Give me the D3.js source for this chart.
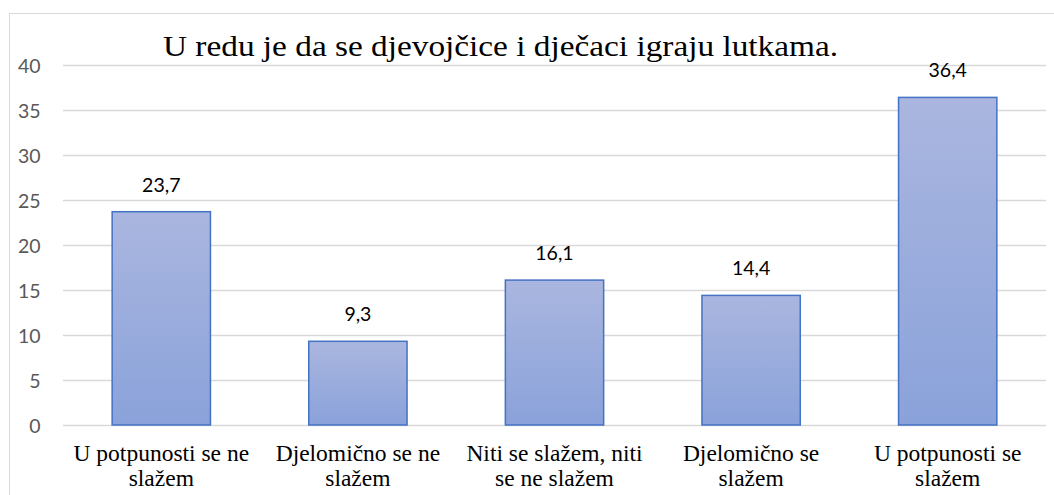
<!DOCTYPE html>
<html>
<head>
<meta charset="utf-8">
<script src="https://cdn.jsdelivr.net/npm/d3@7"></script>
<style>
  html, body { margin: 0; padding: 0; background: #fff; }
  svg { display: block; }
</style>
</head>
<body>
<svg id="chart" width="1054" height="495"></svg>
<script>
// Survey answers for the statement in the title (percent of respondents)
const categories = [
  ["U potpunosti se ne", "slažem"],
  ["Djelomično se ne", "slažem"],
  ["Niti se slažem, niti", "se ne slažem"],
  ["Djelomično se", "slažem"],
  ["U potpunosti se", "slažem"]
];
const values = [23.7, 9.3, 16.1, 14.4, 36.4];
const yTicks = [0, 5, 10, 15, 20, 25, 30, 35, 40];
const title = "U redu je da se djevojčice i dječaci igraju lutkama.";

const TEXT_FONT = "Liberation Serif, Liberation Sans, sans-serif";
const NUM_FONT = "Lato, sans-serif";

const svg = d3.select("#chart");
const plot = { left: 63, right: 1046, top: 65, bottom: 425 };

// Outer chart frame
svg.append("rect")
  .attr("x", 9.5).attr("y", 13.5)
  .attr("width", 1100).attr("height", 600)
  .attr("fill", "#fff")
  .attr("stroke", "#d9d9d9").attr("stroke-width", 1);

const x = d3.scaleBand()
  .domain(d3.range(categories.length))
  .range([plot.left, plot.right])
  .paddingInner(0.5)
  .paddingOuter(0.25);

const y = d3.scaleLinear()
  .domain([0, 40])
  .range([plot.bottom, plot.top]);

// Horizontal gridlines
svg.append("g")
  .selectAll("line")
  .data(yTicks)
  .join("line")
  .attr("x1", plot.left).attr("x2", plot.right)
  .attr("y1", d => Math.round(y(d)) + 0.5)
  .attr("y2", d => Math.round(y(d)) + 0.5)
  .attr("stroke", "#d9d9d9").attr("stroke-width", 1.3);

// Y axis tick labels
const yAxis = d3.axisLeft(y).tickValues(yTicks).tickSize(0).tickPadding(0);
const gy = svg.append("g")
  .attr("transform", `translate(${plot.left - 22.5},0)`)
  .call(yAxis)
  .attr("font-family", NUM_FONT)
  .attr("font-size", 19.5);
gy.select(".domain").remove();
gy.selectAll("text")
  .attr("fill", "#595959")
  .attr("dy", "0.36em");

// Bar gradient
const defs = svg.append("defs");
const grad = defs.append("linearGradient")
  .attr("id", "barFill")
  .attr("x1", 0).attr("y1", 0).attr("x2", 0).attr("y2", 1);
grad.append("stop").attr("offset", "0%").attr("stop-color", "#aab6df");
grad.append("stop").attr("offset", "100%").attr("stop-color", "#8aa2da");

// Bars
svg.append("g")
  .selectAll("rect")
  .data(values)
  .join("rect")
  .attr("x", (d, i) => x(i))
  .attr("y", d => y(d))
  .attr("width", x.bandwidth())
  .attr("height", d => y(0) - y(d))
  .attr("fill", "url(#barFill)")
  .attr("stroke", "#4472c4")
  .attr("stroke-width", 1.5);

// Value labels above bars
svg.append("g")
  .attr("font-family", NUM_FONT)
  .attr("font-size", 19.5)
  .selectAll("text")
  .data(values)
  .join("text")
  .attr("x", (d, i) => x(i) + x.bandwidth() / 2)
  .attr("y", d => y(d) - 20)
  .attr("text-anchor", "middle")
  .attr("fill", "#000")
  .text(d => d.toFixed(1).replace(".", ","));

// Category labels, two lines each
const cat = svg.append("g")
  .attr("font-family", TEXT_FONT)
  .attr("font-size", 23.5)
  .selectAll("text")
  .data(categories)
  .join("text")
  .attr("x", (d, i) => x(i) + x.bandwidth() / 2)
  .attr("y", 461)
  .attr("text-anchor", "middle")
  .attr("fill", "#000");
cat.selectAll("tspan")
  .data(d => d)
  .join("tspan")
  .attr("x", function () { return d3.select(this.parentNode).attr("x"); })
  .attr("dy", (d, i) => i === 0 ? 0 : 25)
  .text(d => d);

// Title
svg.append("text")
  .attr("font-family", TEXT_FONT)
  .attr("font-size", 30)
  .attr("x", 500.5)
  .attr("y", 56)
  .attr("text-anchor", "middle")
  .attr("textLength", 675)
  .attr("lengthAdjust", "spacingAndGlyphs")
  .attr("fill", "#000")
  .text(title);
</script>
</body>
</html>
